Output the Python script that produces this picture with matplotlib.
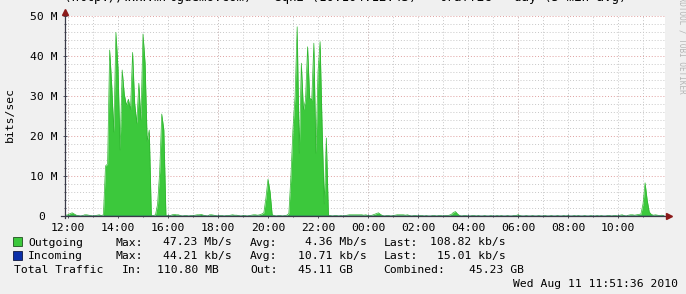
import datetime as dt
import matplotlib
matplotlib.use('Agg')
import matplotlib.pyplot as plt
import matplotlib.dates as mdates
import matplotlib.patches as mpatches
import matplotlib.transforms as mtransforms
from matplotlib.ticker import MultipleLocator

# ---------------------------------------------------------------------------
# Data (5 min averages)
# ---------------------------------------------------------------------------
START = dt.datetime(2010, 8, 10, 11, 55)
LAST_UPDATE = dt.datetime(2010, 8, 11, 11, 51, 36)
STEP = dt.timedelta(minutes=5)

# outgoing traffic in Mbit/s, one row per hour (12 samples)
OUTGOING_MBPS = [
    0.2, 0.3, 0.6, 0.8, 0.5, 0.2, 0.1, 0.0, 0.1, 0.3, 0.3, 0.2,
    0.1, 0.0, 0.1, 0.2, 0.3, 0.1, 0.3, 12.5, 13.0, 41.5, 32.5, 21.0,
    45.9, 37.0, 16.5, 36.5, 30.5, 27.7, 29.2, 26.5, 40.9, 28.2, 23.2, 33.2,
    24.0, 45.5, 38.2, 18.6, 21.5, 0.2, 0.1, 0.3, 3.0, 11.0, 25.5, 21.5,
    0.2, 0.1, 0.1, 0.3, 0.4, 0.3, 0.3, 0.1, 0.0, 0.1, 0.1, 0.0,
    0.1, 0.1, 0.2, 0.3, 0.3, 0.4, 0.2, 0.1, 0.0, 0.3, 0.3, 0.2,
    0.1, 0.0, 0.1, 0.1, 0.0, 0.1, 0.1, 0.2, 0.3, 0.2, 0.2, 0.1,
    0.0, 0.1, 0.1, 0.0, 0.1, 0.2, 0.3, 0.3, 0.2, 0.3, 0.5, 0.8,
    4.5, 9.2, 6.0, 0.3, 0.1, 0.0, 0.1, 0.1, 0.0, 0.1, 0.2, 0.6,
    10.0, 22.0, 30.0, 47.3, 15.7, 38.2, 26.5, 29.0, 42.3, 29.5, 29.0, 43.2,
    15.7, 36.1, 43.6, 21.5, 3.0, 19.5, 0.2, 0.1, 0.0, 0.1, 0.1, 0.0,
    0.1, 0.0, 0.1, 0.2, 0.3, 0.3, 0.3, 0.3, 0.3, 0.3, 0.3, 0.2,
    0.3, 0.1, 0.1, 0.2, 0.4, 0.6, 0.8, 0.4, 0.1, 0.0, 0.1, 0.1,
    0.0, 0.1, 0.2, 0.3, 0.3, 0.3, 0.3, 0.2, 0.3, 0.1, 0.0, 0.1,
    0.1, 0.0, 0.1, 0.1, 0.0, 0.1, 0.0, 0.0, 0.1, 0.1, 0.0, 0.1,
    0.1, 0.0, 0.1, 0.1, 0.2, 0.4, 0.9, 1.1, 0.5, 0.1, 0.0, 0.1,
    0.1, 0.0, 0.0, 0.1, 0.1, 0.0, 0.1, 0.0, 0.0, 0.1, 0.0, 0.0,
    0.1, 0.0, 0.0, 0.1, 0.0, 0.1, 0.0, 0.0, 0.1, 0.0, 0.0, 0.1,
    0.1, 0.3, 0.1, 0.0, 0.0, 0.1, 0.0, 0.0, 0.1, 0.0, 0.0, 0.1,
    0.0, 0.0, 0.1, 0.0, 0.0, 0.1, 0.0, 0.0, 0.1, 0.0, 0.0, 0.1,
    0.0, 0.1, 0.0, 0.0, 0.1, 0.0, 0.1, 0.0, 0.0, 0.1, 0.0, 0.0,
    0.1, 0.0, 0.0, 0.1, 0.0, 0.1, 0.0, 0.0, 0.1, 0.1, 0.0, 0.1,
    0.1, 0.0, 0.2, 0.3, 0.1, 0.0, 0.2, 0.3, 0.3, 0.2, 0.3, 0.4,
    0.5, 3.0, 8.3, 4.0, 1.0, 0.4, 0.2, 0.3, 0.2, 0.1, 0.2, 0.1,
]

# incoming traffic in kbit/s, hourly
INCOMING_KBPS = [12, 9, 44, 18, 8, 7, 9, 10, 12, 40, 11, 8,
                 7, 9, 10, 8, 7, 6, 7, 8, 9, 10, 14, 15]

Y_TICKS = [0, 10, 20, 30, 40, 50]
Y_LABELS = ['0', '10 M', '20 M', '30 M', '40 M', '50 M']

TITLE = '(http://www.mrtgdemo.com) - eqn2 (10.104.12.43) - traffic - day (5 min avg)'

# legend rows: (text, x px, baseline y px)
LEGEND_TEXT = [
    ('Outgoing', 28.3, 245.5), ('Max:', 115, 245.5), ('47.23 Mb/s', 163.3, 245.5),
    ('Avg:', 250, 245.5), ('4.36 Mb/s', 305, 245.5), ('Last:', 383.3, 245.5),
    ('108.82 kb/s', 430, 245.5),
    ('Incoming', 28.3, 259), ('Max:', 115, 259), ('44.21 kb/s', 163.3, 259),
    ('Avg:', 250, 259), ('10.71 kb/s', 298, 259), ('Last:', 383.3, 259),
    ('15.01 kb/s', 437, 259),
    ('Total Traffic', 14, 273), ('In:', 121.7, 273), ('110.80 MB', 156.7, 273),
    ('Out:', 250, 273), ('45.11 GB', 298, 273), ('Combined:', 383.3, 273),
    ('45.23 GB', 469, 273),
]

# ---------------------------------------------------------------------------
# Style
# ---------------------------------------------------------------------------
W, H, DPI = 686, 294, 100
BG = '#f0f0f0'
GREEN = '#3cc83c'
GREEN_EDGE = '#2fb52f'
BLUE = '#0b2fa8'
GRID = '#c8c8c8'
MGRID = '#e0a0a0'
AXIS = '#3a3a48'
ARROW = '#8b1a1a'
FONT = 'DejaVu Sans Mono'
FS = 8.2

plt.rcParams['font.family'] = FONT


def ftext(x, y, s, **kw):
    kw.setdefault('fontsize', FS)
    kw.setdefault('color', 'black')
    return fig.text(x / W, 1 - y / H, s, **kw)


fig = plt.figure(figsize=(W / DPI, H / DPI), dpi=DPI, facecolor=BG)
ax = fig.add_axes([65 / W, (H - 216) / H, 600 / W, 200 / H])
ax.set_facecolor('white')

out_t = [START + STEP * i for i in range(len(OUTGOING_MBPS))]
in_t = [START + dt.timedelta(hours=i) for i in range(len(INCOMING_KBPS))]
in_t.append(out_t[-1])
in_v = [v / 1000 for v in INCOMING_KBPS] + [INCOMING_KBPS[-1] / 1000]

x0 = LAST_UPDATE - dt.timedelta(hours=24) + dt.timedelta(seconds=72)
x1 = x0 + dt.timedelta(hours=24)
ax.set_xlim(x0, x1)
ax.set_ylim(0, 50)

# grid
ax.xaxis.set_major_locator(mdates.HourLocator(byhour=range(0, 24, 2)))
ax.xaxis.set_minor_locator(mdates.HourLocator())
ax.xaxis.set_major_formatter(mdates.DateFormatter('%H:%M'))
ax.yaxis.set_major_locator(MultipleLocator(10))
ax.yaxis.set_minor_locator(MultipleLocator(2))
ax.set_yticks(Y_TICKS)
ax.set_yticklabels(Y_LABELS)

dots = (0, (1, 2))
ax.grid(which='both', axis='x', color=GRID, lw=0.7, ls=dots, zorder=0)
ax.grid(which='minor', axis='y', color=GRID, lw=0.7, ls=dots, zorder=0)
ax.grid(which='major', axis='y', color=MGRID, lw=0.7, ls=dots, zorder=0)
for t in mdates.HourLocator(byhour=[0, 6, 12, 18]).tick_values(x0, x1):
    ax.axvline(t, color=MGRID, lw=0.7, ls=dots, zorder=0.5)
ax.set_axisbelow(True)

# data
ax.fill_between(out_t, 0, OUTGOING_MBPS, color=GREEN, lw=0, zorder=2)
ax.plot(out_t, OUTGOING_MBPS, color=GREEN_EDGE, lw=0.5, zorder=2)
ax.plot(in_t, in_v, color=BLUE, lw=1.0, drawstyle='steps-post', zorder=3)

# axes, ticks, arrows
for side in ['top', 'right', 'left', 'bottom']:
    ax.spines[side].set_visible(False)
ax.plot([-0.006, 1.006], [0, 0], color=AXIS, lw=0.9, transform=ax.transAxes,
        clip_on=False, zorder=4)
ax.plot([0, 0], [-0.012, 1.02], color=AXIS, lw=0.9, transform=ax.transAxes,
        clip_on=False, zorder=4)
ax.plot([1.006], [0], marker='>', ms=4.5, color=ARROW, mec=ARROW,
        transform=ax.transAxes, clip_on=False, zorder=5)
ax.plot([0], [1.022], marker='^', ms=4.5, color=ARROW, mec=ARROW,
        transform=ax.transAxes, clip_on=False, zorder=5)

ax.tick_params(which='both', direction='inout', color=AXIS, width=0.6,
               labelsize=FS, labelcolor='black')
ax.tick_params(which='major', length=3)
ax.tick_params(which='minor', length=2)
ax.tick_params(axis='x', which='major', pad=3.2)
ax.tick_params(axis='y', which='major', pad=4.2)

# the bare zero label sits further left, as rrdtool pads it
zero = ax.get_yticklabels()[0]
zero.set_transform(zero.get_transform() +
                   mtransforms.ScaledTranslation(-12 / DPI, 0, fig.dpi_scale_trans))

# titles and labels (title and watermark are cut by the image edge)
ftext(10, 115, 'bits/sec', rotation=90, ha='center', va='center')
ftext(345, 1.5, TITLE, fontsize=9, ha='center', va='baseline')
ftext(682, -8, 'RRDTOOL / TOBI OETIKER', fontsize=5.5, color='#b4b4b4',
      rotation=270, ha='center', va='top')

# legend
fig.patches.append(mpatches.Rectangle((13 / W, 1 - 246 / H), 9 / W, 9 / H,
                                      transform=fig.transFigure, facecolor=GREEN,
                                      edgecolor='#205020', lw=0.6))
fig.patches.append(mpatches.Rectangle((13 / W, 1 - 260 / H), 9 / W, 9 / H,
                                      transform=fig.transFigure, facecolor=BLUE,
                                      edgecolor='#101840', lw=0.6))
for s, x, y in LEGEND_TEXT:
    ftext(x, y, s, ha='left', va='baseline')

ftext(678, 287, LAST_UPDATE.strftime('%a %b %d %H:%M:%S %Y'),
      ha='right', va='baseline')

fig.savefig('out.png', dpi=DPI, facecolor=BG)
